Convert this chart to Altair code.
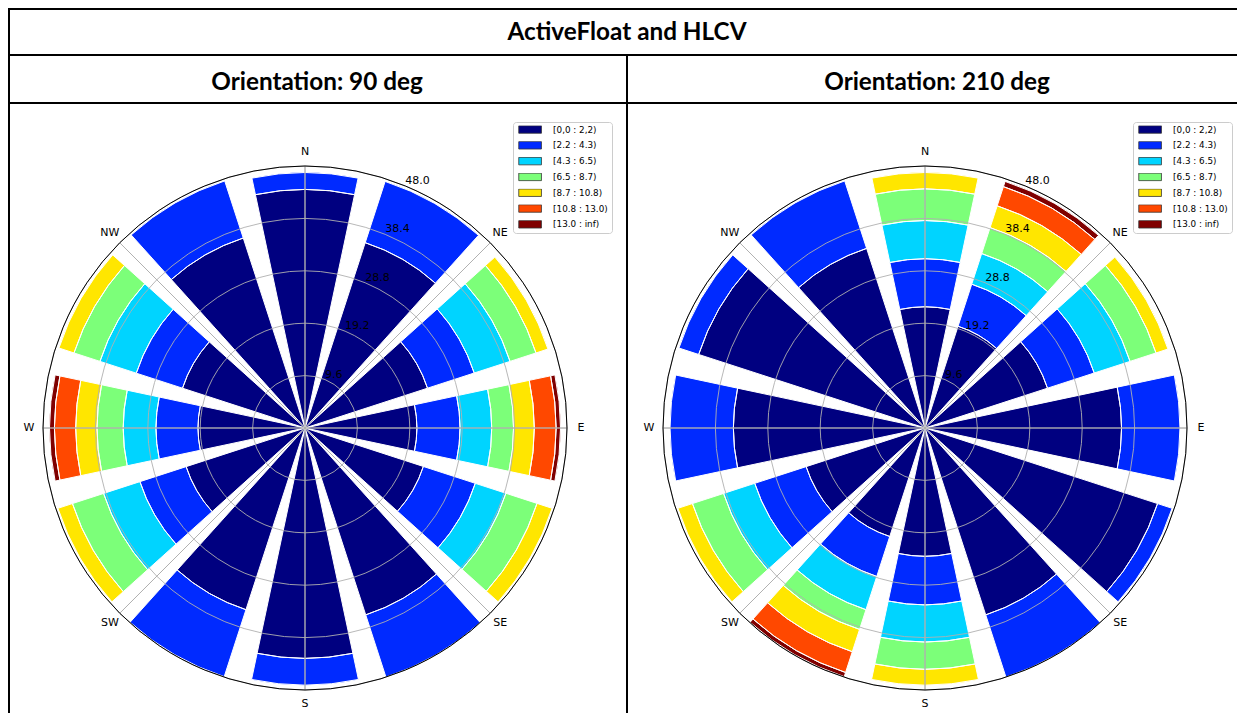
import altair as alt
import pandas as pd

# ---------------- data ----------------
directions = [0, 30, 60, 90, 120, 150, 180, 210, 240, 270, 300, 330]
speed_bins = ["[0,0 : 2,2)", "[2.2 : 4.3)", "[4.3 : 6.5)", "[6.5 : 8.7)",
              "[8.7 : 10.8)", "[10.8 : 13.0)", "[13.0 : inf)"]
bin_colors = ["#000080", "#002aff", "#00d4ff", "#7cff79", "#ffe600", "#ff4800", "#800000"]

# Orientation 90 deg: share of each bin, per direction
o90_b0 = [43.7, 35.7, 23.6, 20.5, 22.8, 36.0, 42.2, 35.0, 22.9, 19.6, 23.6, 36.6]
o90_b1 = [3.1, 11.8, 9.0, 7.9, 10.0, 12.0, 4.9, 12.9, 8.9, 7.7, 8.9, 11.0]
o90_b2 = [0.0, 0.0, 6.9, 5.8, 5.9, 0.0, 0.0, 0.0, 7.0, 6.0, 7.0, 0.0]
o90_b3 = [0.0, 0.0, 5.0, 4.0, 6.0, 0.0, 0.0, 0.0, 6.0, 4.8, 5.0, 0.0]
o90_b4 = [0.0, 0.0, 2.3, 3.8, 2.9, 0.0, 0.0, 0.0, 2.8, 3.9, 2.9, 0.0]
o90_b5 = [0.0, 0.0, 0.0, 4.0, 0.0, 0.0, 0.0, 0.0, 0.0, 3.9, 0.0, 0.0]
o90_b6 = [0.0, 0.0, 0.0, 0.8, 0.0, 0.0, 0.0, 0.0, 0.0, 0.9, 0.0, 0.0]

# Orientation 210 deg
o210_b0 = [22.2, 19.6, 23.6, 36.0, 44.8, 36.0, 23.5, 20.9, 22.9, 35.1, 43.6, 34.6]
o210_b1 = [8.8, 8.1, 9.0, 10.7, 2.8, 12.0, 8.9, 7.7, 9.9, 11.6, 3.8, 13.0]
o210_b2 = [7.0, 5.9, 6.9, 0.0, 0.0, 0.0, 6.8, 6.4, 6.0, 0.0, 0.0, 0.0]
o210_b3 = [5.8, 5.0, 5.0, 0.0, 0.0, 0.0, 5.0, 3.8, 6.0, 0.0, 0.0, 0.0]
o210_b4 = [3.0, 4.2, 2.3, 0.0, 0.0, 0.0, 2.9, 4.3, 2.8, 0.0, 0.0, 0.0]
o210_b5 = [0.0, 3.7, 0.0, 0.0, 0.0, 0.0, 0.0, 4.0, 0.0, 0.0, 0.0, 0.0]
o210_b6 = [0.0, 1.0, 0.0, 0.0, 0.0, 0.0, 0.0, 0.8, 0.0, 0.0, 0.0, 0.0]

radial_ticks = [9.6, 19.2, 28.8, 38.4, 48.0]
compass_labels = ["N", "NE", "E", "SE", "S", "SW", "W", "NW"]
compass_angles = [0, 45, 90, 135, 180, 225, 270, 315]

main_title = "ActiveFloat and HLCV"
panel_titles = ["Orientation: 90 deg", "Orientation: 210 deg"]

# ---------------- layout constants (pixels, relative to the chart origin) ----------------
WIDTH, HEIGHT = 1229, 705
ROW1, ROW2 = 47, 95          # y of the two horizontal separators
MID = 619                    # x of the vertical divider
R_MAX = 48.0
R_PX = 262
CY = 420
CX_L, CX_R = 297, 917
SECTOR = 24                  # angular width of a bar (deg)
TITLE_FONT = "Lato"
TITLE_SIZE = 24.3

theta_scale = alt.Scale(domain=[0, 360], range=[0, 6.283185307179586])
r_scale = alt.Scale(type="linear", domain=[0, R_MAX], range=[0, R_PX], zero=True)


def build_rows(bin_lists, field):
    rows = []
    for i, d in enumerate(directions):
        cum = 0.0
        for b, label in enumerate(speed_bins):
            v = bin_lists[b][i]
            if v > 0:
                rows.append({"t0": d - SECTOR / 2, "t1": d + SECTOR / 2,
                             "lo": cum, "hi": cum + v, field: label})
                cum += v
    return pd.DataFrame(rows)


one = pd.DataFrame({"k": [0]})


def hline(x0, x1, y, width=2):
    return alt.Chart(one).mark_rule(color="black", strokeWidth=width).encode(
        x=alt.value(x0), x2=alt.value(x1), y=alt.value(y), y2=alt.value(y))


def vline(x, y0, y1, width=2):
    return alt.Chart(one).mark_rule(color="black", strokeWidth=width).encode(
        x=alt.value(x), x2=alt.value(x), y=alt.value(y0), y2=alt.value(y1))


def arc_enc(pos, t0="t0:Q", t1="t1:Q", r="hi:Q", r2="lo:Q"):
    return dict(
        theta=alt.Theta(t0, scale=theta_scale, stack=False),
        theta2=t1,
        radius=alt.Radius(r, scale=r_scale),
        radius2=r2,
        **pos,
    )


def make_legend(lx, ly):
    return alt.Legend(
        title=None, orient="none", legendX=lx, legendY=ly,
        symbolType="M-1,-0.33H1V0.33H-1Z", symbolSize=515,
        symbolStrokeColor="#333333", symbolStrokeWidth=0.8,
        labelFont="DejaVu Sans", labelFontSize=8.8, labelColor="black",
        clipHeight=8, rowPadding=6.8, labelOffset=11, symbolOffset=1.6,
        padding=3.5, fillColor="white", strokeColor="#cccccc", cornerRadius=3,
    )


def rose(bin_lists, cx, channel, field, legend):
    df = build_rows(bin_lists, field)
    pos = dict(x=alt.value(cx), y=alt.value(CY))
    if channel == "color":
        col = {"color": alt.Color(f"{field}:N",
                                  scale=alt.Scale(domain=speed_bins, range=bin_colors),
                                  legend=legend)}
    else:
        # data-driven domain, ordered like speed_bins (keeps this legend separate)
        col = {"fill": alt.Fill(f"{field}:N", sort=speed_bins,
                                scale=alt.Scale(range=bin_colors), legend=legend)}
    bars = alt.Chart(df).mark_arc().encode(**col, **arc_enc(pos))
    edges = alt.Chart(df).mark_arc(fillOpacity=0, stroke="white", strokeWidth=1).encode(
        **arc_enc(pos))
    n = len(radial_ticks)
    ring_df = pd.DataFrame({"r": radial_ticks, "z": [0.0] * n, "s": [0.0] * n, "e": [360.0] * n})
    circles = alt.Chart(ring_df).mark_arc(fillOpacity=0, stroke="#b0b0b0", strokeWidth=0.9).encode(
        **arc_enc(pos, "s:Q", "e:Q", "r:Q", "z:Q"))
    spokes_df = pd.DataFrame({"a": compass_angles, "r": [R_MAX] * 8, "z": [0.0] * 8})
    spokes = alt.Chart(spokes_df).mark_arc(fillOpacity=0, stroke="#b0b0b0", strokeWidth=0.9).encode(
        **arc_enc(pos, "a:Q", "a:Q", "r:Q", "z:Q"))
    outer_df = pd.DataFrame({"r": [R_MAX], "z": [0.0], "s": [0.0], "e": [360.0]})
    outer = alt.Chart(outer_df).mark_arc(fillOpacity=0, stroke="black", strokeWidth=1).encode(
        **arc_enc(pos, "s:Q", "e:Q", "r:Q", "z:Q"))
    lab_df = pd.DataFrame({"r": radial_ticks, "a": [22.5] * n})
    rlabels = alt.Chart(lab_df).mark_text(
        align="left", baseline="bottom", font="DejaVu Sans", fontSize=11, color="black").encode(
        theta=alt.Theta("a:Q", scale=theta_scale, stack=False),
        radius=alt.Radius("r:Q", scale=r_scale),
        text=alt.Text("r:Q", format=".1f"), **pos)
    comp_df = pd.DataFrame({"a": compass_angles, "lab": compass_labels, "r": [R_MAX] * 8})
    clabels = alt.Chart(comp_df).mark_text(
        align="center", baseline="middle", font="DejaVu Sans", fontSize=11, color="black",
        radiusOffset=14).encode(
        theta=alt.Theta("a:Q", scale=theta_scale, stack=False),
        radius=alt.Radius("r:Q", scale=r_scale),
        text="lab:N", **pos)
    return [bars, edges, circles, spokes, outer, rlabels, clabels]


def cell_text(txt, x, y):
    return alt.Chart(pd.DataFrame({"t": [txt]})).mark_text(
        font=TITLE_FONT, fontWeight="bold", fontSize=TITLE_SIZE, color="black",
        baseline="middle").encode(x=alt.value(x), y=alt.value(y), text="t:N")


o90 = [o90_b0, o90_b1, o90_b2, o90_b3, o90_b4, o90_b5, o90_b6]
o210 = [o210_b0, o210_b1, o210_b2, o210_b3, o210_b4, o210_b5, o210_b6]

layers = []
layers += rose(o90, CX_L, "color", "bin_90", make_legend(505, 114))
layers += rose(o210, CX_R, "fill", "bin_210", make_legend(1125, 114))
layers += [
    cell_text(main_title, 619, 25),
    cell_text(panel_titles[0], 309, 75),
    cell_text(panel_titles[1], 929, 75),
    hline(0, WIDTH, 1),
    hline(0, WIDTH, ROW1),
    hline(0, WIDTH, ROW2),
    vline(1, 0, HEIGHT),
    vline(MID, ROW1, HEIGHT),
]

chart = alt.layer(*layers).properties(
    width=WIDTH, height=HEIGHT, padding=0,
    autosize=alt.AutoSizeParams(type="none"),
).configure_view(strokeWidth=0)

chart.save("out.html", embed_options={"renderer": "svg", "actions": False})
